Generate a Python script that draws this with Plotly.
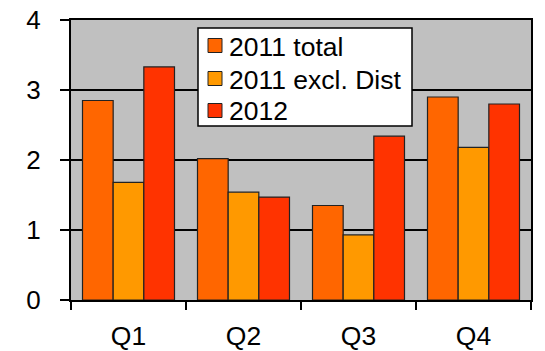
import plotly.graph_objects as go

# Quarterly values per series
quarters = ["Q1", "Q2", "Q3", "Q4"]
total_2011 = [2.85, 2.02, 1.35, 2.90]
excl_dist_2011 = [1.68, 1.54, 0.93, 2.18]
total_2012 = [3.33, 1.47, 2.34, 2.80]

series = [
    ("2011 total", total_2011, "#FF6600"),
    ("2011 excl. Dist", excl_dist_2011, "#FF9900"),
    ("2012", total_2012, "#FF3300"),
]

FONT = "Arial, 'Liberation Sans', sans-serif"
W, H = 545, 351
ML, MR, MT, MB = 71, 14, 20, 51
PW, PH = W - ML - MR, H - MT - MB


def px_x(px):
    """Pixel column -> paper x."""
    return (px - ML) / PW


def px_y(py):
    """Pixel row -> paper y."""
    return (H - MB - py) / PH


fig = go.Figure()
for name, vals, color in series:
    fig.add_trace(go.Bar(
        x=quarters, y=vals, name=name, showlegend=False,
        marker=dict(color=color, line=dict(color="#222222", width=1.2)),
    ))

# Boxed key in the upper middle of the plot area
box = dict(x0=198, x1=412, y0=28, y1=126)
fig.add_shape(type="rect", xref="paper", yref="paper",
              x0=px_x(box["x0"]), x1=px_x(box["x1"]),
              y0=px_y(box["y1"]), y1=px_y(box["y0"]),
              fillcolor="white", line=dict(color="black", width=1.5),
              layer="above")
row_centers = [45.5, 78.5, 110.5]
for (name, _, color), cy in zip(series, row_centers):
    fig.add_shape(type="rect", xref="paper", yref="paper",
                  x0=px_x(208), x1=px_x(222),
                  y0=px_y(cy + 7), y1=px_y(cy - 7),
                  fillcolor=color, line=dict(color="#222222", width=1),
                  layer="above")
    fig.add_annotation(text=name, xref="paper", yref="paper",
                       x=px_x(227), y=px_y(cy + 1),
                       xanchor="left", yanchor="middle", showarrow=False,
                       font=dict(family=FONT, size=26.5, color="black"))

fig.update_layout(
    width=W, height=H,
    margin=dict(l=ML, r=MR, t=MT, b=MB, autoexpand=False),
    paper_bgcolor="white",
    plot_bgcolor="#C0C0C0",
    barmode="group",
    bargap=0.2,
    bargroupgap=0,
    font=dict(family=FONT, size=26, color="black"),
    showlegend=False,
)

fig.update_xaxes(
    type="category",
    tickson="boundaries",
    automargin=False,
    ticks="outside", ticklen=8, tickwidth=1.5, tickcolor="black",
    showline=True, linecolor="black", linewidth=2, mirror=True,
    showgrid=False,
    ticklabelstandoff=11,
    tickfont=dict(family=FONT, size=26.5, color="black"),
)
fig.update_yaxes(
    range=[0, 4], dtick=1,
    automargin=False,
    ticks="outside", ticklen=9, tickwidth=1.5, tickcolor="black",
    showline=True, linecolor="black", linewidth=2, mirror=True,
    showgrid=True, gridcolor="black", gridwidth=1.5,
    zeroline=False,
    ticklabelstandoff=14,
    tickfont=dict(family=FONT, size=26, color="black"),
)

fig.write_html("out.html")
